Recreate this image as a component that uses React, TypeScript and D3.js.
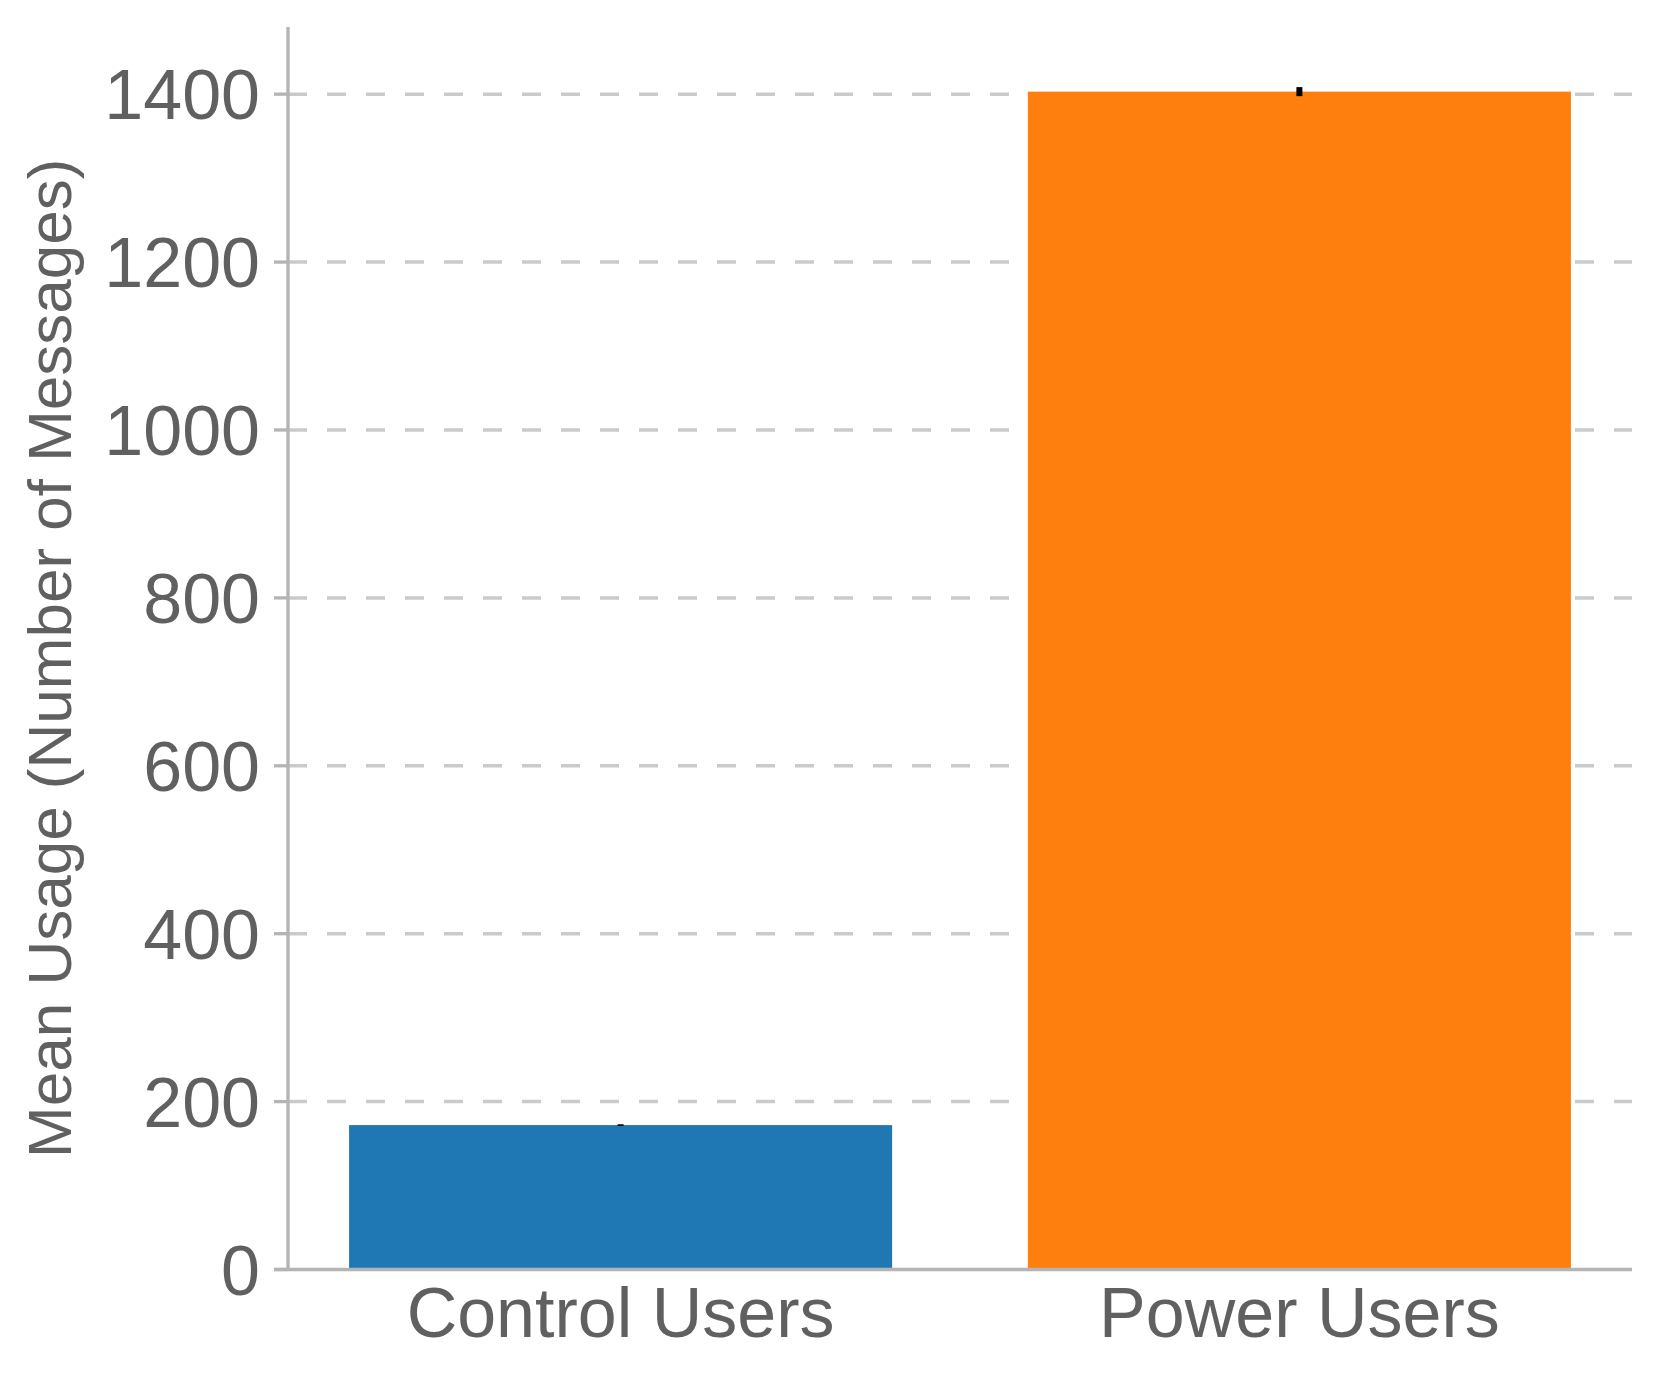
import React from "react";
import * as d3 from "d3";

const categories = ["Control Users", "Power Users"];
const means = [172, 1403];
const errors = [1, 5.4];
const colors = ["#1f77b4", "#ff7f0e"];
const yTicks = [0, 200, 400, 600, 800, 1000, 1200, 1400];
const yLabel = "Mean Usage (Number of Messages)";

const W = 1661;
const H = 1377;
const left = 288;
const right = 1632;
const top = 27;
const bottom = 1269.5;
const textColor = "#606060";
const axisColor = "#b4b4b4";
const gridColor = "#cacaca";
const font = "'Liberation Sans', Arial, Helvetica, sans-serif";

export default function App() {
  const x = d3.scaleLinear().domain([-0.49, 1.49]).range([left, right]);
  const y = d3.scaleLinear().domain([0, 1480]).range([bottom, top]);
  const barW = x(0.8) - x(0);

  return (
    <svg
      width={W}
      height={H}
      style={{ position: "absolute", left: 0, top: 0, background: "#fff" }}
      fontFamily={font}
    >
      {yTicks.filter((t) => t > 0).map((t) => (
        <line
          key={"g" + t}
          x1={left}
          x2={right}
          y1={y(t)}
          y2={y(t)}
          stroke={gridColor}
          strokeWidth={3.5}
          strokeDasharray="19 20"
        />
      ))}
      {categories.map((c, i) => (
        <rect
          key={c}
          x={x(i) - barW / 2}
          y={y(means[i])}
          width={barW}
          height={y(0) - y(means[i])}
          fill={colors[i]}
        />
      ))}
      {categories.map((c, i) => (
        <line
          key={"e" + c}
          x1={x(i)}
          x2={x(i)}
          y1={y(means[i] - errors[i])}
          y2={y(means[i] + errors[i])}
          stroke="#000"
          strokeWidth={6}
        />
      ))}
      <line x1={left} x2={left} y1={top} y2={bottom + 1.5} stroke={axisColor} strokeWidth={3.3} />
      <line x1={left - 14} x2={right} y1={bottom} y2={bottom} stroke={axisColor} strokeWidth={3.3} />
      {yTicks.map((t) => (
        <g key={"t" + t}>
          <line x1={left - 14} x2={left} y1={y(t)} y2={y(t)} stroke={axisColor} strokeWidth={3.3} />
          <text
            x={260}
            y={y(t)}
            dy="0.36em"
            textAnchor="end"
            fontSize={70}
            fill={textColor}
          >
            {t}
          </text>
        </g>
      ))}
      {categories.map((c, i) => (
        <text
          key={"xl" + c}
          x={x(i)}
          y={1337}
          textAnchor="middle"
          fontSize={70}
          fill={textColor}
        >
          {c}
        </text>
      ))}
      <text
        transform={`translate(71, ${(top + bottom) / 2 + 10}) rotate(-90)`}
        textAnchor="middle"
        fontSize={62}
        fill={textColor}
      >
        {yLabel}
      </text>
    </svg>
  );
}
